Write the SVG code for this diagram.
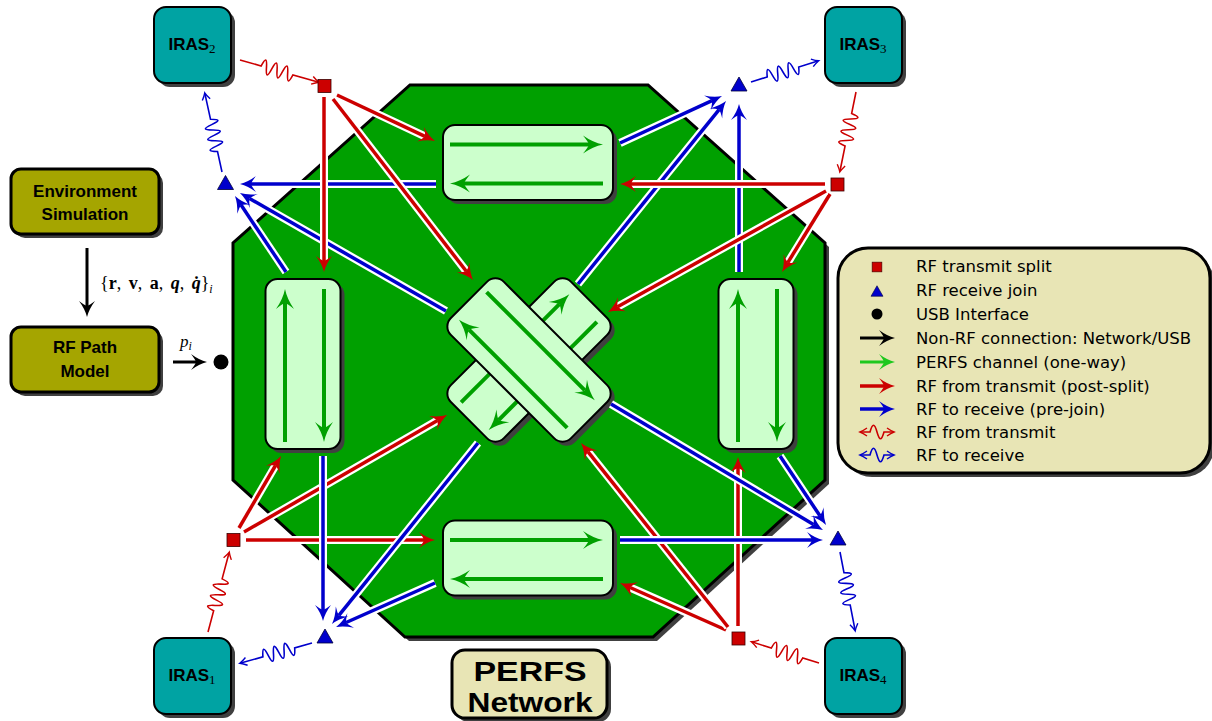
<svg xmlns="http://www.w3.org/2000/svg" xmlns:xlink="http://www.w3.org/1999/xlink" width="1212" height="721" viewBox="0 0 1212 721">
<style>
.sh{fill:#404040}
.iras{fill:#00a3a3;stroke:#000;stroke-width:2}
.olive{fill:#a5a500;stroke:#000;stroke-width:3}
.cb{fill:#ccffcc;stroke:#000;stroke-width:2}
.pale{fill:#e8e5b5;stroke:#000;stroke-width:3}
.ga{stroke:#00a000;stroke-width:4;fill:none;marker-end:url(#mg)}
.cas{stroke:#fff;stroke-width:8;fill:none}
.rl{stroke:#cc0000;stroke-width:3.5;fill:none;marker-end:url(#mr)}
.bl{stroke:#0000cc;stroke-width:3.5;fill:none;marker-end:url(#mb)}
.kl{stroke:#000;stroke-width:3;fill:none;marker-end:url(#mk)}
.rw{stroke:#cc0000;stroke-width:1.6;fill:none;marker-end:url(#mwr)}
.bw{stroke:#0000cc;stroke-width:1.6;fill:none;marker-end:url(#mwb)}
.sq{fill:#cc0000;stroke:#3a0000;stroke-width:0.8}
.tri{fill:#0000cc;stroke:#00003a;stroke-width:0.8}
.bt{font-family:"Liberation Sans",Arial,sans-serif;font-weight:bold;fill:#000}
.lg{font-family:"DejaVu Sans","Liberation Sans",sans-serif;font-size:16.5px;fill:#000}
.math{font-family:"Liberation Serif","DejaVu Serif",serif;fill:#000}
</style>
<defs>
<marker id="mr" markerUnits="userSpaceOnUse" markerWidth="20" markerHeight="18" refX="0" refY="0" orient="auto" overflow="visible"><path d="M11,0 Q3,-2 -5,-8 Q-1,-3 0,0 Q-1,3 -5,8 Q3,2 11,0 Z" fill="#cc0000"/></marker>
<marker id="mb" markerUnits="userSpaceOnUse" markerWidth="20" markerHeight="18" refX="0" refY="0" orient="auto" overflow="visible"><path d="M11,0 Q3,-2 -5,-8 Q-1,-3 0,0 Q-1,3 -5,8 Q3,2 11,0 Z" fill="#0000cc"/></marker>
<marker id="mk" markerUnits="userSpaceOnUse" markerWidth="20" markerHeight="18" refX="0" refY="0" orient="auto" overflow="visible"><path d="M11,0 Q3,-2 -5,-8 Q-1,-3 0,0 Q-1,3 -5,8 Q3,2 11,0 Z" fill="#000"/></marker>
<marker id="mg" markerUnits="userSpaceOnUse" markerWidth="20" markerHeight="18" refX="0" refY="0" orient="auto" overflow="visible"><path d="M14,0 Q4,-2 -6,-9 Q-1,-3 0,0 Q-1,3 -6,9 Q4,2 14,0 Z" fill="#00a000"/></marker>
<marker id="mgl" markerUnits="userSpaceOnUse" markerWidth="20" markerHeight="18" refX="0" refY="0" orient="auto" overflow="visible"><path d="M11,0 Q3,-2 -5,-8 Q-1,-3 0,0 Q-1,3 -5,8 Q3,2 11,0 Z" fill="#1ec81e"/></marker>
<marker id="mwr" markerUnits="userSpaceOnUse" markerWidth="10" markerHeight="10" refX="0" refY="0" orient="auto-start-reverse" overflow="visible"><path d="M-6,-4 Q-2,-1.2 1,0 Q-2,1.2 -6,4" fill="none" stroke="#cc0000" stroke-width="1.4"/></marker>
<marker id="mwb" markerUnits="userSpaceOnUse" markerWidth="10" markerHeight="10" refX="0" refY="0" orient="auto-start-reverse" overflow="visible"><path d="M-6,-4 Q-2,-1.2 1,0 Q-2,1.2 -6,4" fill="none" stroke="#0000cc" stroke-width="1.4"/></marker>
<rect id="cbox" x="-85" y="-37.5" width="170" height="75" rx="12"/>
<g id="carrows"><path class="ga" d="M-78,-18 H61"/><path class="ga" d="M75,21 H-64"/></g>
<rect id="sqr" x="-6.5" y="-6.5" width="13" height="13"/>
<polygon id="trg" points="0,-7 -8,7 8,7"/>
<rect id="iras" x="0" y="0" width="77" height="76" rx="12"/>
<path id="r1" d="M324,97 L324,261"/>
<path id="r2" d="M337,95 L425,136.3"/>
<path id="r3" d="M333,99 L466.3,271.3"/>
<path id="r4" d="M825,184 L631,184"/>
<path id="r5" d="M830,194 L787.8,262.6"/>
<path id="r6" d="M826,191 L617.6,306.7"/>
<path id="r7" d="M239,528 L275.5,465.5"/>
<path id="r8" d="M246,540 L424,540"/>
<path id="r9" d="M244,532 L437.5,420.5"/>
<path id="r10" d="M738,626 L738,468"/>
<path id="r11" d="M726,630 L630.1,587.5"/>
<path id="r12" d="M728,627 L587.9,451.6"/>
<path id="b1" d="M436,184 L251,184"/>
<path id="b2" d="M286,272 L241.1,205.1"/>
<path id="b3" d="M446,311 L249.5,198.5"/>
<path id="b4" d="M620,143 L712,100.6"/>
<path id="b5" d="M739,272 L739,115"/>
<path id="b6" d="M578,284 L719.1,109.6"/>
<path id="b7" d="M323,456 L323,610"/>
<path id="b8" d="M435,583 L346.1,622.5"/>
<path id="b9" d="M478,443 L338.9,615.4"/>
<path id="b10" d="M620,540 L812,540"/>
<path id="b11" d="M780,456 L819.9,515.8"/>
<path id="b12" d="M611,404 L813.5,524.4"/>
</defs>

<rect width="1212" height="721" fill="#fff"/>

<g id="perfs-network">
<polygon class="sh" transform="translate(4,4)" points="410,85 648,85 825,243 825,480 653,637 405,637 233,480 233,243"/>
<polygon points="410,85 648,85 825,243 825,480 653,637 405,637 233,480 233,243" fill="#00a000" stroke="#000" stroke-width="3"/>
</g>

<g id="ch-top" transform="translate(528,162.5)">
<use href="#cbox" class="sh" transform="translate(4,4)"/><use href="#cbox" class="cb"/><use href="#carrows"/>
</g>
<g id="ch-bottom" transform="translate(528,558)">
<use href="#cbox" class="sh" transform="translate(4,4)"/><use href="#cbox" class="cb"/><use href="#carrows"/>
</g>
<g id="ch-left" transform="translate(303,364)">
<use href="#cbox" class="sh" transform="translate(4,4) rotate(-90)"/><use href="#cbox" class="cb" transform="rotate(-90)"/><use href="#carrows" transform="rotate(-90)"/>
</g>
<g id="ch-right" transform="translate(756,364)">
<use href="#cbox" class="sh" transform="translate(4,4) rotate(-90)"/><use href="#cbox" class="cb" transform="rotate(-90)"/><use href="#carrows" transform="rotate(-90)"/>
</g>
<g id="ch-diagB" transform="translate(529,360)">
<use href="#cbox" class="sh" transform="translate(4,4) rotate(-45)"/><use href="#cbox" class="cb" transform="rotate(-45)"/><use href="#carrows" transform="rotate(-45)"/>
</g>
<g id="ch-diagA" transform="translate(529,360)">
<use href="#cbox" class="sh" transform="translate(4,4) rotate(45)"/><use href="#cbox" class="cb" transform="rotate(45)"/><use href="#carrows" transform="rotate(45)"/>
</g>

<g id="connectors">
<use href="#r7" class="cas"/><use href="#r7" class="rl"/>
<use href="#r8" class="cas"/><use href="#r8" class="rl"/>
<use href="#r9" class="cas"/><use href="#r9" class="rl"/>
<use href="#b7" class="cas"/><use href="#b7" class="bl"/>
<use href="#b8" class="cas"/><use href="#b8" class="bl"/>
<use href="#b9" class="cas"/><use href="#b9" class="bl"/>
<use href="#b1" class="cas"/><use href="#b1" class="bl"/>
<use href="#b2" class="cas"/><use href="#b2" class="bl"/>
<use href="#b3" class="cas"/><use href="#b3" class="bl"/>
<use href="#r1" class="cas"/><use href="#r1" class="rl"/>
<use href="#r2" class="cas"/><use href="#r2" class="rl"/>
<use href="#r3" class="cas"/><use href="#r3" class="rl"/>
<use href="#b4" class="cas"/><use href="#b4" class="bl"/>
<use href="#b5" class="cas"/><use href="#b5" class="bl"/>
<use href="#b6" class="cas"/><use href="#b6" class="bl"/>
<use href="#r4" class="cas"/><use href="#r4" class="rl"/>
<use href="#r5" class="cas"/><use href="#r5" class="rl"/>
<use href="#r6" class="cas"/><use href="#r6" class="rl"/>
<use href="#r10" class="cas"/><use href="#r10" class="rl"/>
<use href="#r11" class="cas"/><use href="#r11" class="rl"/>
<use href="#r12" class="cas"/><use href="#r12" class="rl"/>
<use href="#b10" class="cas"/><use href="#b10" class="bl"/>
<use href="#b11" class="cas"/><use href="#b11" class="bl"/>
<use href="#b12" class="cas"/><use href="#b12" class="bl"/>
<path class="rw" transform="translate(240,60) rotate(15.75)" d="M0,0 H22 c2,-9.3 3.5,-9.3 5.5,0 c2,9.3 3.5,9.3 5.5,0 c2,-9.3 3.5,-9.3 5.5,0 c2,9.3 3.5,9.3 5.5,0 c2,-9.3 3.5,-9.3 5.5,0 c2,9.3 3.5,9.3 5.5,0 H81"/>
<path class="bw" transform="translate(222,172) rotate(-102.3)" d="M0,0 H21 c2,-9.3 3.5,-9.3 5.5,0 c2,9.3 3.5,9.3 5.5,0 c2,-9.3 3.5,-9.3 5.5,0 c2,9.3 3.5,9.3 5.5,0 c2,-9.3 3.5,-9.3 5.5,0 c2,9.3 3.5,9.3 5.5,0 H80"/>
<path class="rw" transform="translate(856,92) rotate(101.45)" d="M0,0 H22 c2,-9.3 3.5,-9.3 5.5,0 c2,9.3 3.5,9.3 5.5,0 c2,-9.3 3.5,-9.3 5.5,0 c2,9.3 3.5,9.3 5.5,0 c2,-9.3 3.5,-9.3 5.5,0 c2,9.3 3.5,9.3 5.5,0 H80.6"/>
<path class="bw" transform="translate(751,82) rotate(-17.4)" d="M0,0 H17 c2,-9.3 3.5,-9.3 5.5,0 c2,9.3 3.5,9.3 5.5,0 c2,-9.3 3.5,-9.3 5.5,0 c2,9.3 3.5,9.3 5.5,0 c2,-9.3 3.5,-9.3 5.5,0 c2,9.3 3.5,9.3 5.5,0 H70"/>
<path class="rw" transform="translate(208,632) rotate(-75.1)" d="M0,0 H22 c2,-9.3 3.5,-9.3 5.5,0 c2,9.3 3.5,9.3 5.5,0 c2,-9.3 3.5,-9.3 5.5,0 c2,9.3 3.5,9.3 5.5,0 c2,-9.3 3.5,-9.3 5.5,0 c2,9.3 3.5,9.3 5.5,0 H81.7"/>
<path class="bw" transform="translate(312,643) rotate(164.3)" d="M0,0 H18 c2,-9.3 3.5,-9.3 5.5,0 c2,9.3 3.5,9.3 5.5,0 c2,-9.3 3.5,-9.3 5.5,0 c2,9.3 3.5,9.3 5.5,0 c2,-9.3 3.5,-9.3 5.5,0 c2,9.3 3.5,9.3 5.5,0 H74"/>
<path class="rw" transform="translate(819,663) rotate(-162.6)" d="M0,0 H17 c2,-9.3 3.5,-9.3 5.5,0 c2,9.3 3.5,9.3 5.5,0 c2,-9.3 3.5,-9.3 5.5,0 c2,9.3 3.5,9.3 5.5,0 c2,-9.3 3.5,-9.3 5.5,0 c2,9.3 3.5,9.3 5.5,0 H70"/>
<path class="bw" transform="translate(840,552) rotate(79.1)" d="M0,0 H21 c2,-9.3 3.5,-9.3 5.5,0 c2,9.3 3.5,9.3 5.5,0 c2,-9.3 3.5,-9.3 5.5,0 c2,9.3 3.5,9.3 5.5,0 c2,-9.3 3.5,-9.3 5.5,0 c2,9.3 3.5,9.3 5.5,0 H79.4"/>
<path class="kl" d="M87,248 L87,306"/>
<path class="kl" d="M173,362 L196,362"/>
</g>

<g id="split2"><use href="#sqr" class="sq" x="324.5" y="86"/></g>
<g id="split3"><use href="#sqr" class="sq" x="837.5" y="184.5"/></g>
<g id="split1"><use href="#sqr" class="sq" x="233.5" y="540"/></g>
<g id="split4"><use href="#sqr" class="sq" x="738.5" y="638.5"/></g>
<g id="join2"><use href="#trg" class="tri" x="225.5" y="182.5"/></g>
<g id="join3"><use href="#trg" class="tri" x="739" y="84"/></g>
<g id="join1"><use href="#trg" class="tri" x="325" y="636"/></g>
<g id="join4"><use href="#trg" class="tri" x="838" y="538"/></g>

<g id="iras2">
<use href="#iras" class="sh" x="158" y="11"/><use href="#iras" class="iras" x="154" y="7"/>
<text class="bt" x="192" y="50" font-size="17" text-anchor="middle">IRAS<tspan class="math" font-weight="normal" font-size="13" dy="3">2</tspan></text>
</g>
<g id="iras3">
<use href="#iras" class="sh" x="829" y="11"/><use href="#iras" class="iras" x="825" y="7"/>
<text class="bt" x="863" y="50" font-size="17" text-anchor="middle">IRAS<tspan class="math" font-weight="normal" font-size="13" dy="3">3</tspan></text>
</g>
<g id="iras1">
<use href="#iras" class="sh" x="158" y="642"/><use href="#iras" class="iras" x="154" y="638"/>
<text class="bt" x="192" y="681" font-size="17" text-anchor="middle">IRAS<tspan class="math" font-weight="normal" font-size="13" dy="3">1</tspan></text>
</g>
<g id="iras4">
<use href="#iras" class="sh" x="829" y="642"/><use href="#iras" class="iras" x="825" y="638"/>
<text class="bt" x="863" y="681" font-size="17" text-anchor="middle">IRAS<tspan class="math" font-weight="normal" font-size="13" dy="3">4</tspan></text>
</g>

<g id="env-sim">
<rect class="sh" x="15" y="173" width="148" height="65" rx="10"/>
<rect class="olive" x="11" y="169" width="148" height="65" rx="10"/>
<text class="bt" x="85" y="197" font-size="17" text-anchor="middle">Environment</text>
<text class="bt" x="85" y="220" font-size="17" text-anchor="middle">Simulation</text>
</g>
<text class="math" x="100" y="289" font-size="18" word-spacing="3">{<tspan font-weight="bold">r</tspan>, <tspan font-weight="bold">v</tspan>, <tspan font-weight="bold">a</tspan>, <tspan font-weight="bold" font-style="italic">q</tspan>, <tspan font-weight="bold" font-style="italic">q̇</tspan>}<tspan font-size="12" font-style="italic" dy="4">i</tspan></text>

<g id="rf-path">
<rect class="sh" x="15" y="331" width="148" height="65" rx="10"/>
<rect class="olive" x="11" y="327" width="148" height="65" rx="10"/>
<text class="bt" x="85" y="353" font-size="17" text-anchor="middle">RF Path</text>
<text class="bt" x="85" y="377" font-size="17" text-anchor="middle">Model</text>
</g>
<text class="math" x="180" y="347" font-size="17" font-style="italic">p<tspan font-size="12" dy="3">i</tspan></text>

<g id="usb"><circle cx="221" cy="362" r="7.5" fill="#000"/></g>

<g id="perfs-label">
<rect class="sh" x="456" y="654" width="155" height="68" rx="13"/>
<rect class="pale" x="452" y="650" width="155" height="68" rx="13" stroke-width="2.5"/>
<text class="bt" x="530" y="681" font-size="27.5" text-anchor="middle" textLength="113" lengthAdjust="spacingAndGlyphs">PERFS</text>
<text class="bt" x="530" y="712" font-size="27.5" text-anchor="middle" textLength="125" lengthAdjust="spacingAndGlyphs">Network</text>
</g>

<g id="legend">
<rect class="sh" x="842" y="252" width="372" height="225" rx="30"/>
<rect class="pale" x="838" y="248" width="372" height="225" rx="30"/>
<use href="#sqr" class="sq" x="877" y="267" transform="translate(877,267) scale(0.75) translate(-877,-267)"/>
<use href="#trg" class="tri" x="877" y="291" transform="translate(877,291) scale(0.75) translate(-877,-291)"/>
<circle cx="877" cy="314" r="5.5" fill="#000"/>
<path class="kl" d="M860,338 H884"/>
<path d="M860,362 H884" stroke="#1ec81e" stroke-width="3" fill="none" marker-end="url(#mgl)"/>
<path class="rl" d="M860,386 H884" stroke-width="3"/>
<path class="bl" d="M860,409 H884" stroke-width="3"/>
<path class="rw" d="M861,432 H870 c2.5,-9 4.5,-9 7,0 c2.5,9 4.5,9 7,0 H893" marker-start="url(#mwr)"/>
<path class="bw" d="M861,455 H870 c2.5,-9 4.5,-9 7,0 c2.5,9 4.5,9 7,0 H893" marker-start="url(#mwb)"/>
<text class="lg" x="916" y="272">RF transmit split</text>
<text class="lg" x="916" y="296">RF receive join</text>
<text class="lg" x="916" y="319.5">USB Interface</text>
<text class="lg" x="916" y="343.5">Non-RF connection: Network/USB</text>
<text class="lg" x="916" y="367.5">PERFS channel (one-way)</text>
<text class="lg" x="916" y="391.5">RF from transmit (post-split)</text>
<text class="lg" x="916" y="414.5">RF to receive (pre-join)</text>
<text class="lg" x="916" y="437.5">RF from transmit</text>
<text class="lg" x="916" y="460.5">RF to receive</text>
</g>
</svg>
